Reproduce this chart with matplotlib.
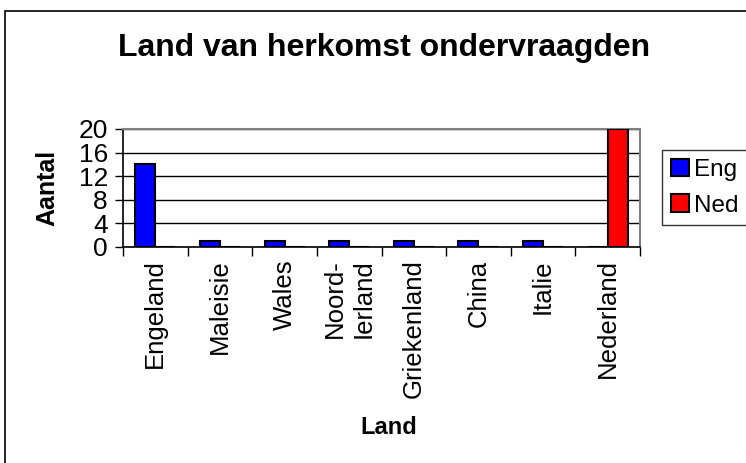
import matplotlib
matplotlib.use("Agg")
import matplotlib.pyplot as plt
import numpy as np
from matplotlib.patches import Rectangle

# --- data ---
landen = ["Engeland", "Maleisie", "Wales", "Noord-\nIerland", "Griekenland",
          "China", "Italie", "Nederland"]
eng = [14, 1, 1, 1, 1, 1, 1, 0]
ned = [0, 0, 0, 0, 0, 0, 0, 20]
y_ticks = [0, 4, 8, 12, 16, 20]

plt.rcParams['font.family'] = ['Liberation Sans', 'DejaVu Sans']

W, H = 746, 463
fig = plt.figure(figsize=(W / 100, H / 100), dpi=100)

# outer chart border (only left and top are visible in the crop)
fig.patches.append(Rectangle((5 / W, -0.1), 1.2, 1.1 - 11 / H,
                             transform=fig.transFigure, fill=False,
                             edgecolor="black", linewidth=1.2))

ax = fig.add_axes([123 / W, 1 - 247 / H, (640 - 123) / W, (247 - 129) / H])

x = np.arange(len(landen))
bw = 0.31
ax.bar(x - bw / 2, eng, bw, color="#0000ff", edgecolor="black", linewidth=1.5,
       label="Eng", zorder=3)
ax.bar(x + bw / 2, ned, bw, color="#ff0000", edgecolor="black", linewidth=1.5,
       label="Ned", zorder=3)

ax.set_xlim(-0.5, len(landen) - 0.5)
ax.set_ylim(0, 20)
ax.set_yticks(y_ticks)
ax.set_yticklabels([str(v) for v in y_ticks], fontsize=19)
ax.yaxis.grid(True, color="black", linewidth=1, zorder=0)

# category boundaries as ticks, names on minor ticks
ax.set_xticks(np.arange(len(landen) + 1) - 0.5)
ax.set_xticklabels([])
ax.set_xticks(x, minor=True)
ax.set_xticklabels(landen, minor=True, rotation=90, fontsize=18.5,
                   va="top", ha="center", linespacing=1.25)
ax.tick_params(axis="x", which="minor", length=0, pad=9)
ax.tick_params(axis="x", which="major", length=6.5, width=1, direction="out")
ax.tick_params(axis="y", length=5.8, width=1, direction="out", pad=5)

for s in ["left", "bottom"]:
    ax.spines[s].set_color("black")
    ax.spines[s].set_linewidth(1.2)
for s in ["top", "right"]:
    ax.spines[s].set_color("#808080")
    ax.spines[s].set_linewidth(1.5)

fig.text(47 / W, 1 - 188 / H, "Aantal", fontsize=18, fontweight="bold",
         rotation=90, ha="center", va="center")
fig.text(389 / W, 1 - 428 / H, "Land", fontsize=17, fontweight="bold",
         ha="center", va="center")
fig.text(384 / W, 1 - 48 / H, "Land van herkomst ondervraagden", fontsize=23,
         fontweight="bold", ha="center", va="center")

leg = fig.legend(loc="upper left", bbox_to_anchor=(662 / W, 1 - 150 / H),
                 fontsize=17.5, frameon=True, fancybox=False, shadow=False,
                 handlelength=0.75, handleheight=0.75, handletextpad=0.2,
                 borderpad=0.35, labelspacing=0.55, borderaxespad=0)
leg.get_frame().set_edgecolor("black")
leg.get_frame().set_linewidth(1)

fig.savefig("out.png", dpi=100)
